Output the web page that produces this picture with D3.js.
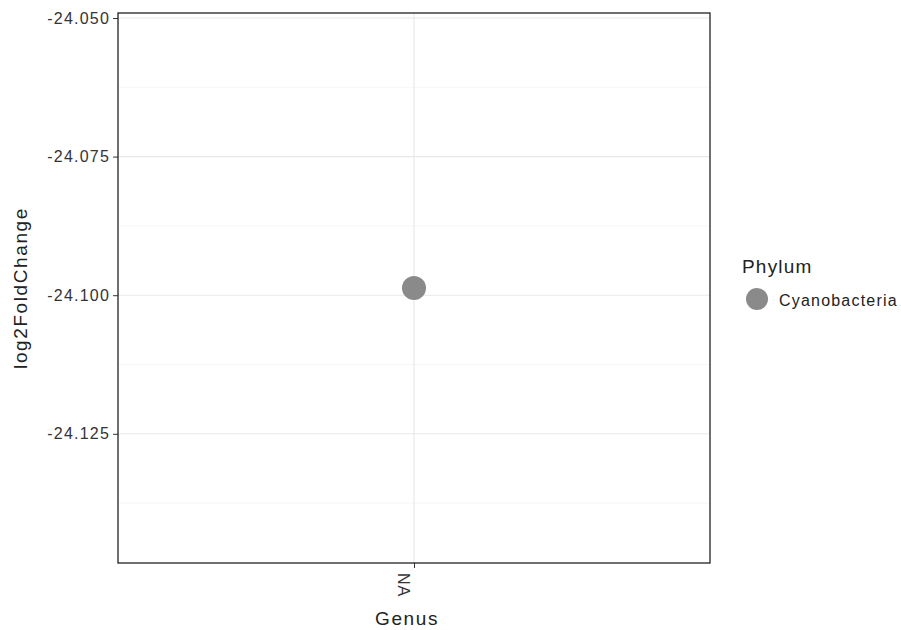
<!DOCTYPE html>
<html>
<head>
<meta charset="utf-8">
<script src="https://cdn.jsdelivr.net/npm/d3@7"></script>
<style>
  body { margin: 0; background: #fff; }
  text { font-family: "Liberation Sans", Arial, sans-serif; }
</style>
</head>
<body>
<svg id="chart" width="901" height="630"></svg>
<script>
const genus = ["NA"];
const phylum = ["Cyanobacteria"];
const log2FoldChange = [-24.0987];
const yTicks = [-24.050, -24.075, -24.100, -24.125];
const yMinorTicks = [-24.0625, -24.0875, -24.1125, -24.1375];
const yDomain = [-24.1483, -24.0491];

const svg = d3.select("#chart");
const m = { left: 118, right: 710, top: 13, bottom: 563 };

const x = d3.scalePoint().domain(genus).range([m.left, m.right]).padding(0.5);
const y = d3.scaleLinear().domain(yDomain).range([m.bottom, m.top]);
const color = d3.scaleOrdinal().domain(phylum).range(["#8a8a8a"]);

svg.append("rect").attr("x", 0).attr("y", 0).attr("width", 901).attr("height", 630).attr("fill", "#fff");

// grid
const grid = svg.append("g");
grid.selectAll(".minor").data(yMinorTicks).join("line")
  .attr("x1", m.left).attr("x2", m.right)
  .attr("y1", d => y(d)).attr("y2", d => y(d))
  .attr("stroke", "#f0f0f0").attr("stroke-width", 0.6);
grid.selectAll(".major").data(yTicks).join("line")
  .attr("x1", m.left).attr("x2", m.right)
  .attr("y1", d => y(d)).attr("y2", d => y(d))
  .attr("stroke", "#e8e8e8").attr("stroke-width", 1.1);
grid.selectAll(".vmajor").data(genus).join("line")
  .attr("x1", d => x(d)).attr("x2", d => x(d))
  .attr("y1", m.top).attr("y2", m.bottom)
  .attr("stroke", "#e8e8e8").attr("stroke-width", 1.1);

// axes
const yAxis = d3.axisLeft(y).tickValues(yTicks)
  .tickFormat(d => d3.format(".3f")(d).replace("\u2212", "-"))
  .tickSize(5).tickPadding(3);
const gy = svg.append("g").attr("transform", `translate(${m.left},0)`).call(yAxis);
gy.select(".domain").remove();
gy.selectAll("line").attr("stroke", "#333");
gy.selectAll("text").attr("font-size", 16).attr("fill", "#333").attr("letter-spacing", "1.2px");

const xAxis = d3.axisBottom(x).tickSize(5).tickPadding(3);
const gx = svg.append("g").attr("transform", `translate(0,${m.bottom})`).call(xAxis);
gx.select(".domain").remove();
gx.selectAll("line").attr("stroke", "#333");
gx.selectAll("text").attr("font-size", 16).attr("fill", "#333").attr("letter-spacing", "1px")
  .attr("transform", "rotate(90)")
  .attr("text-anchor", "start").attr("dy", "1.05em").attr("x", 10).attr("y", 0);

// panel border
svg.append("rect").attr("x", m.left).attr("y", m.top)
  .attr("width", m.right - m.left).attr("height", m.bottom - m.top)
  .attr("fill", "none").attr("stroke", "#222").attr("stroke-width", 1.3);

// points
svg.selectAll(".pt").data(genus.map((g, i) => ({ g, v: log2FoldChange[i], p: phylum[i] })))
  .join("circle")
  .attr("cx", d => x(d.g)).attr("cy", d => y(d.v)).attr("r", 12)
  .attr("fill", d => color(d.p));

// axis titles
svg.append("text").attr("x", (m.left + m.right) / 2 - 7).attr("y", 625)
  .attr("text-anchor", "middle").attr("font-size", 19).attr("letter-spacing", "1.6px")
  .attr("fill", "#222").text("Genus");
svg.append("text").attr("transform", `translate(27,${(m.top + m.bottom) / 2}) rotate(-90)`)
  .attr("text-anchor", "middle").attr("font-size", 19).attr("letter-spacing", "1.6px")
  .attr("fill", "#222").text("log2FoldChange");

// legend
const lg = svg.append("g").attr("transform", "translate(742,0)");
lg.append("text").attr("x", 0).attr("y", 273).attr("font-size", 19).attr("letter-spacing", "1.2px")
  .attr("fill", "#222").text("Phylum");
lg.selectAll(".key").data(phylum).join("g").each(function(d, i) {
  const g = d3.select(this);
  g.append("circle").attr("cx", 15).attr("cy", 299 + i * 22).attr("r", 11).attr("fill", color(d));
  g.append("text").attr("x", 37).attr("y", 300 + i * 22).attr("dy", "0.35em")
    .attr("font-size", 16).attr("letter-spacing", "1.2px").attr("fill", "#222").text(d);
});
</script>
</body>
</html>
